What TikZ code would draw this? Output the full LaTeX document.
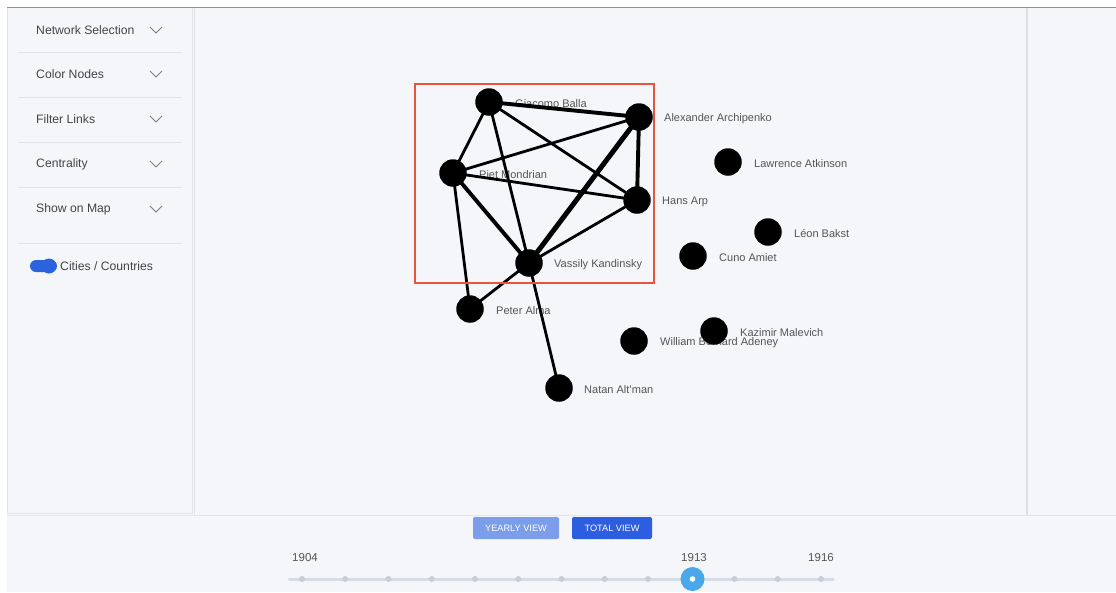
\documentclass[tikz,border=0pt]{standalone}
\usepackage{fontspec}
\setmainfont{Liberation Sans}
\begin{document}
\pgfdeclarelayer{base}
\pgfdeclarelayer{labels}
\pgfdeclarelayer{links}
\pgfsetlayers{base,labels,links,main}
\definecolor{appbg}{HTML}{F4F6F9}
\definecolor{panelline}{HTML}{E2E4E8}
\definecolor{topline}{HTML}{8E8E8E}
\definecolor{menutext}{HTML}{444444}
\definecolor{labeltext}{HTML}{555555}
\definecolor{selred}{HTML}{E8553F}
\definecolor{toggleblue}{HTML}{2B63DD}
\definecolor{btnlight}{HTML}{7C9DEA}
\definecolor{btndark}{HTML}{2E5EE0}
\definecolor{sliderline}{HTML}{D6DCE6}
\definecolor{sliderdot}{HTML}{C6CEDA}
\definecolor{handle}{HTML}{4AA8EA}
\begin{tikzpicture}[x=1pt,y=-1pt,
  artist/.style={circle,fill=black,inner sep=0pt,minimum size=27.5pt},
  namelabel/.style={anchor=west,inner sep=0pt,text=labeltext,font=\fontsize{11}{13}\selectfont},
  menuitem/.style={anchor=west,inner sep=0pt,text=menutext,font=\fontsize{12.2}{14}\selectfont},
  link/.style={line width=2.8pt},
  strong/.style={line width=3.9pt},
  strongest/.style={line width=5pt},
  chevron/.style={draw=gray,line width=0.8pt},
  sep/.style={draw=panelline,line width=0.8pt},
  button/.style={rounded corners=2pt,minimum width=#1,minimum height=22pt,inner sep=0pt,text=white,font=\fontsize{9.2}{11}\selectfont},
  year/.style={text=labeltext,font=\fontsize{11.5}{13}\selectfont,inner sep=0pt},
  tick/.style={circle,fill=sliderdot,inner sep=0pt,minimum size=6pt}]
\useasboundingbox (0,0) rectangle (1116,592);
\begin{pgfonlayer}{base}
\fill[white] (0,0) rectangle (1116,592);
% application frame
\fill[appbg] (7,7) rectangle (1116,592);
\draw[topline,line width=1pt] (7,7) -- (1116,7);
% panels
\draw[panelline,line width=1pt] (7,8) -- (7,513) -- (192,513) -- (192,8);
\draw[panelline,line width=1pt] (194,8) -- (194,515);
\draw[panelline!95!gray,line width=1.5pt] (1027,8) -- (1027,515);
\draw[panelline,line width=1pt] (7,515.5) -- (1116,515.5);
\end{pgfonlayer}

% sidebar menu
\foreach \t/\y in {Network Selection/30,Color Nodes/74,Filter Links/119,Centrality/164,Show on Map/209}{
  \node[menuitem] at (36,\y) {\t};
  \draw[chevron] (150,\y-3) -- (156,\y+3) -- (162,\y-3);
}
\foreach \y in {52,97,142,187,243}{\draw[sep] (18,\y) -- (182,\y);}
% toggle
\fill[toggleblue,rounded corners=6pt] (30,260) rectangle (57,272);
\fill[toggleblue] (49,266) circle (7.5pt);
\node[menuitem] (toggle) at (60,266) {Cities / Countries};

% artists
\node[artist] (balla) at (489,102) {};
\node[artist] (archipenko) at (639,117) {};
\node[artist] (mondrian) at (453,173) {};
\node[artist] (arp) at (637,200) {};
\node[artist] (kandinsky) at (529,263) {};
\node[artist] (alma) at (470,309) {};
\node[artist] (altman) at (559,388) {};
\node[artist] (adeney) at (634,341) {};
\node[artist] (malevich) at (714,331) {};
\node[artist] (atkinson) at (728,162) {};
\node[artist] (bakst) at (768,232) {};
\node[artist] (amiet) at (693,256) {};

\begin{pgfonlayer}{labels}
\node[namelabel] at ([xshift=26pt,yshift=-1.5pt]balla.center) {Giacomo Balla};
\node[namelabel] at ([xshift=25pt,yshift=-1.5pt]archipenko.center) {Alexander Archipenko};
\node[namelabel] at ([xshift=26pt,yshift=-1.5pt]mondrian.center) {Piet Mondrian};
\node[namelabel] at ([xshift=25pt,yshift=-1.5pt]arp.center) {Hans Arp};
\node[namelabel] at ([xshift=25pt,yshift=-1.5pt]kandinsky.center) {Vassily Kandinsky};
\node[namelabel] at ([xshift=26pt,yshift=-1.5pt]alma.center) {Peter Alma};
\node[namelabel] at ([xshift=25pt,yshift=-1.5pt]altman.center) {Natan Alt'man};
\node[namelabel] at ([xshift=26pt,yshift=-1.5pt]adeney.center) {William Bernard Adeney};
\node[namelabel] at ([xshift=26pt,yshift=-1.5pt]malevich.center) {Kazimir Malevich};
\node[namelabel] at ([xshift=26pt,yshift=-1.5pt]atkinson.center) {Lawrence Atkinson};
\node[namelabel] at ([xshift=26pt,yshift=-1.5pt]bakst.center) {Léon Bakst};
\node[namelabel] at ([xshift=26pt,yshift=-1.5pt]amiet.center) {Cuno Amiet};
\end{pgfonlayer}

\begin{pgfonlayer}{links}
\draw[strong] (balla.center) -- (archipenko.center);
\draw[link] (balla.center) -- (mondrian.center);
\draw[link] (balla.center) -- (kandinsky.center);
\draw[link] (balla.center) -- (arp.center);
\draw[link] (archipenko.center) -- (mondrian.center);
\draw[strong] (archipenko.center) -- (arp.center);
\draw[strongest] (archipenko.center) -- (kandinsky.center);
\draw[link] (mondrian.center) -- (arp.center);
\draw[strong] (mondrian.center) -- (kandinsky.center);
\draw[link] (mondrian.center) -- (alma.center);
\draw[link] (arp.center) -- (kandinsky.center);
\draw[link] (kandinsky.center) -- (alma.center);
\draw[link] (kandinsky.center) -- (altman.center);
\end{pgfonlayer}

% selection box
\draw[selred,line width=1.6pt] (415,84) rectangle (654,283);

% view buttons
\node[button=86pt,fill=btnlight] (yearly) at (516,528) {YEARLY VIEW};
\node[button=80pt,fill=btndark] (total) at (612,528) {TOTAL VIEW};

% year slider
\draw[sliderline,line width=3pt,line cap=round] (289,579) -- (833,579);
\foreach \i in {0,...,12}{\node[tick] at (302+43.25*\i,579) {};}
\node[circle,fill=handle,inner sep=0pt,minimum size=24pt] (knob) at (692.5,579) {};
\fill[white] (knob.center) circle (2.8pt);
\node[year] at (305,558) {1904};
\node[year] at (694,558) {1913};
\node[year] at (821,558) {1916};
\end{tikzpicture}
\end{document}
